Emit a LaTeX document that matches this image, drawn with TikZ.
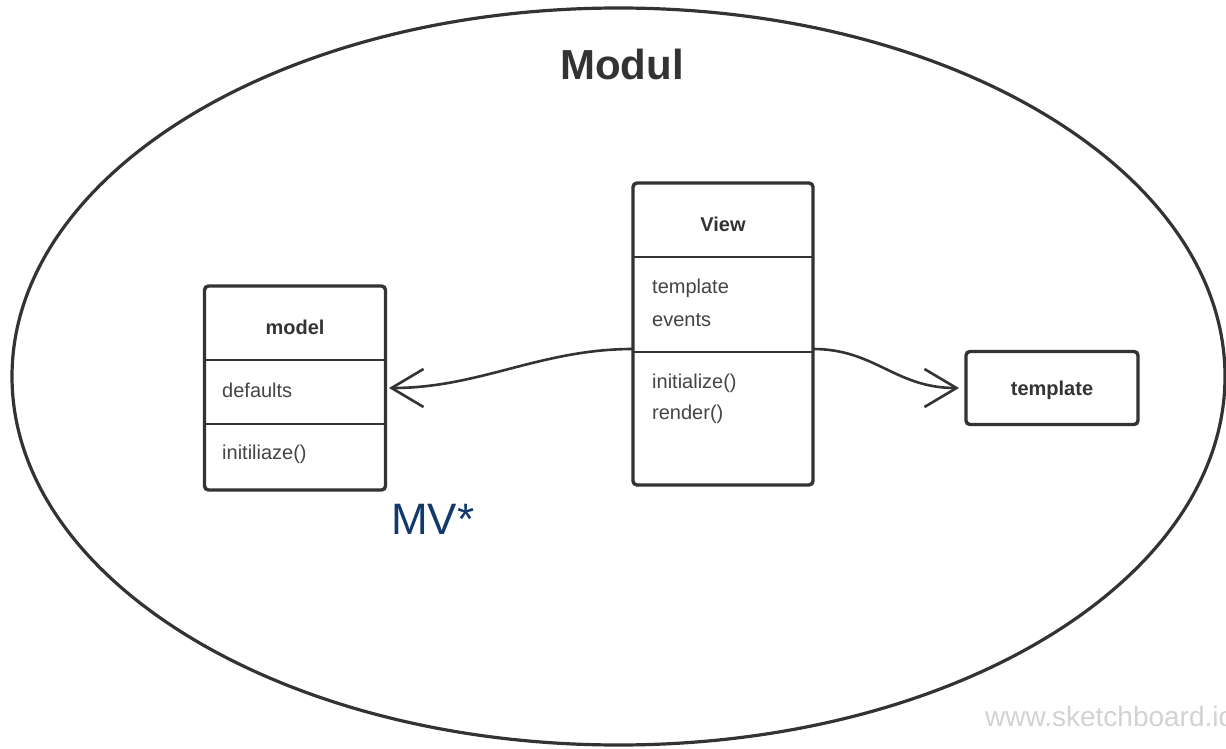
\documentclass[tikz,border=0pt]{standalone}
\usepackage{fontspec}
\setmainfont{Liberation Sans}
\usetikzlibrary{arrows.meta,shapes.geometric}
\definecolor{ink}{HTML}{333333}
\definecolor{txt}{HTML}{444444}
\definecolor{mvblue}{HTML}{12386C}
\definecolor{wm}{HTML}{D2D2D2}
\tikzset{
  umlbox/.style={draw=ink, line width=3.4pt, rounded corners=4pt, fill=white, inner sep=0pt},
  divline/.style={draw=ink, line width=2.6pt},
  ttl/.style={font=\fontsize{20}{24}\selectfont\bfseries, text=ink, inner sep=0pt},
  item/.style={font=\fontsize{20}{24}\selectfont, text=txt, inner sep=0pt, anchor=west},
  conn/.style={draw=ink, line width=2.6pt, -{Straight Barb[length=32pt, width=38pt, line width=2.6pt]}},
}
\begin{document}
\begin{tikzpicture}[x=1pt, y=-1pt]
\useasboundingbox (0,0) rectangle (1226,749);
\clip (0,0) rectangle (1226,749);
% module ellipse
\node[draw=ink, line width=3.2pt, ellipse, minimum width=1213pt, minimum height=737pt, inner sep=0pt] (modul) at (618.5,376.5) {};
\node[font=\fontsize{42}{48}\selectfont\bfseries, text=ink, inner sep=0pt] (modultitle) at (622,64) {Modul};
% model box
\node[umlbox, minimum width=181pt, minimum height=204pt] (model) at (295,388) {};
\coordinate (m1l) at (204,360); \coordinate (m1r) at (386,360);
\coordinate (m2l) at (204,424); \coordinate (m2r) at (386,424);
\draw[divline] (m1l) -- (m1r);
\draw[divline] (m2l) -- (m2r);
\node[ttl] (modelttl) at (295,327) {model};
\node[item] (defaults) at (222,390) {defaults};
\node[item] (initm) at (222,454) {initiliaze()};
% view box
\node[umlbox, minimum width=180pt, minimum height=302pt] (view) at (723,334) {};
\coordinate (v1l) at (633,257); \coordinate (v1r) at (813,257);
\coordinate (v2l) at (633,352); \coordinate (v2r) at (813,352);
\draw[divline] (v1l) -- (v1r);
\draw[divline] (v2l) -- (v2r);
\node[ttl] (viewttl) at (723,224) {View};
\node[item] (tmpl) at (652,288) {template};
\node[item] (events) at (652,320) {events};
\node[item] (initv) at (652,383) {initialize()};
\node[item] (render) at (652,414) {render()};
% template box
\node[umlbox, minimum width=172pt, minimum height=73pt] (template) at (1052,388) {};
\node[ttl] (templatettl) at (1052,390) {template};
% connectors
\coordinate (vl) at (633,349);
\coordinate (vr) at (813,349);
\coordinate (me) at (389,388);
\coordinate (te) at (959,388);
\draw[conn] (vl) .. controls (540,349) and (480,388) .. (me);
\draw[conn] (vr) .. controls (875,349) and (895,388) .. (te);
% labels
\node[font=\fontsize{44}{50}\selectfont, text=mvblue, inner sep=0pt, anchor=west] (mv) at (391,519) {MV*};
\node[font=\fontsize{28}{32}\selectfont, text=wm, inner sep=0pt, anchor=base west] (wmark) at (985,726) {www.sketchboard.io};
\end{tikzpicture}
\end{document}
